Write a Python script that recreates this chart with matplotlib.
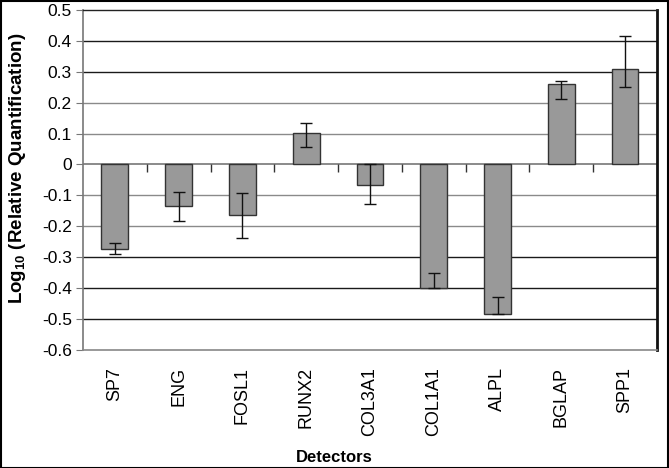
import numpy as np
import matplotlib
matplotlib.use("Agg")
import matplotlib.pyplot as plt
from matplotlib.patches import Rectangle

plt.rcParams["font.family"] = ["Liberation Sans", "DejaVu Sans"]
plt.rcParams["mathtext.fontset"] = "custom"
plt.rcParams["mathtext.bf"] = "Liberation Sans:bold"
plt.rcParams["mathtext.rm"] = "Liberation Sans"

# data
detectors = ["SP7", "ENG", "FOSL1", "RUNX2", "COL3A1", "COL1A1", "ALPL", "BGLAP", "SPP1"]
log_rq = [-0.273, -0.134, -0.164, 0.101, -0.067, -0.399, -0.484, 0.261, 0.308]
err_low = [0.018, 0.049, 0.073, 0.043, 0.062, 0.0, 0.0, 0.048, 0.058]
err_high = [0.018, 0.044, 0.071, 0.034, 0.067, 0.049, 0.057, 0.010, 0.107]
y_ticks = [0.5, 0.4, 0.3, 0.2, 0.1, 0, -0.1, -0.2, -0.3, -0.4, -0.5, -0.6]
light_grid = [0.2, 0.1, -0.1, -0.2]

fig = plt.figure(figsize=(6.69, 4.68), dpi=100)
ax = fig.add_axes([0.124, 0.252, 0.858, 0.727])

x = np.arange(len(detectors))

# gridlines
for v in y_ticks:
    if v == 0 or v in (0.5, -0.6):
        continue
    col = "#8a8a8a" if v in light_grid else "#1a1a1a"
    ax.axhline(v, color=col, lw=1.0, zorder=0)

ax.bar(x, log_rq, width=0.42, color="#999999", edgecolor="#333333",
       linewidth=1.0, zorder=2)
ax.errorbar(x, log_rq, yerr=[err_low, err_high], fmt="none",
            ecolor="#111111", elinewidth=1.0, capsize=4, capthick=1.0, zorder=3)

# zero axis with small category-boundary ticks
ax.axhline(0, color="#777777", lw=1.2, zorder=1)
ax.plot(x[:-1] + 0.5, np.zeros(len(x) - 1), linestyle="none", marker=3,
        markersize=6, color="#333333", markeredgewidth=1.0, zorder=1)

ax.set_xlim(-0.5, len(detectors) - 0.5)
ax.set_ylim(-0.6, 0.5)
ax.set_yticks(y_ticks)
ax.set_yticklabels([f"{v:g}" for v in y_ticks], fontsize=12.5)
ax.tick_params(axis="y", direction="out", length=5, color="#777777", pad=3)

ax.set_xticks(x)
ax.set_xticklabels(detectors, rotation=90, fontsize=13, va="top")
ax.tick_params(axis="x", length=0, pad=12)

ax.spines["left"].set_color("#777777")
ax.spines["left"].set_linewidth(1.2)
ax.spines["bottom"].set_color("#888888")
ax.spines["bottom"].set_linewidth(1.2)
ax.spines["top"].set_color("#222222")
ax.spines["top"].set_linewidth(1.0)
ax.spines["right"].set_color("#111111")
ax.spines["right"].set_linewidth(2.0)

fig.text(0.5, 1 - 458 / 468, "Detectors", ha="center", va="center",
         fontsize=12, fontweight="bold")
fig.text(18 / 669, 1 - 168 / 468,
         r"Log$_{\mathbf{10}}$ (Relative Quantification)", rotation=90,
         ha="center", va="center", fontsize=13.5, fontweight="bold")

# figure frame
fig.patches.append(Rectangle((0.001, 0.001), 0.997, 0.997, transform=fig.transFigure,
                             fill=False, edgecolor="black", linewidth=1.5))

fig.savefig("out.png", dpi=100)
